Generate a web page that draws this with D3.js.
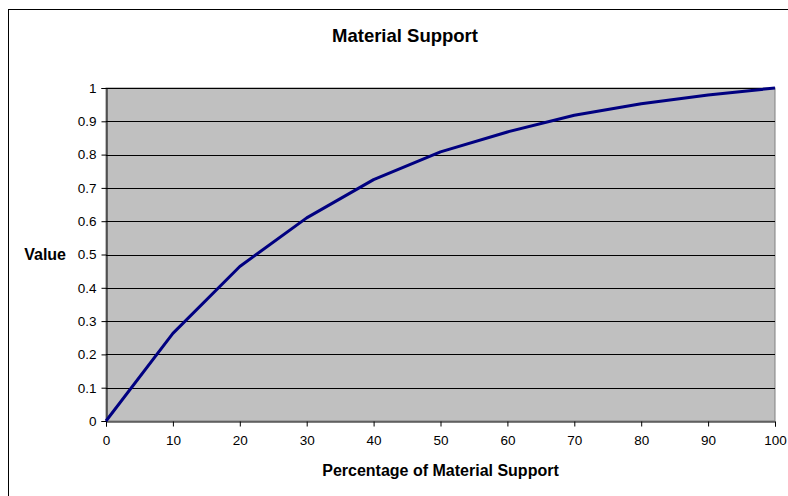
<!DOCTYPE html>
<html><head><meta charset="utf-8">
<script src="https://cdn.jsdelivr.net/npm/d3@7"></script>
<style>body{margin:0;background:#fff}svg{display:block}text{font-family:"Liberation Sans",Arial,sans-serif;fill:#000}</style>
</head><body><svg id="c" width="788" height="496"></svg>
<script>
const xValues = [0,10,20,30,40,50,60,70,80,90,100];
const yValues = [0,0.263,0.464,0.61,0.725,0.808,0.868,0.918,0.953,0.979,1.0];
const xTicks = [0,10,20,30,40,50,60,70,80,90,100];
const yTicks = [0,0.1,0.2,0.3,0.4,0.5,0.6,0.7,0.8,0.9,1];
const title = "Material Support";
const xTitle = "Percentage of Material Support";
const yTitle = "Value";

const svg = d3.select("#c");
const L=106, R=775, T=88, B=421;
const x = d3.scaleLinear().domain([0,100]).range([L,R]);
const y = d3.scaleLinear().domain([0,1]).range([B,T]);

svg.append("rect").attr("x",8.5).attr("y",9.5).attr("width",800).attr("height",500)
  .attr("fill","#fff").attr("stroke","#000");
svg.append("rect").attr("x",L).attr("y",T).attr("width",R-L).attr("height",B-T)
  .attr("fill","#c0c0c0").attr("stroke","#808080");

svg.append("g").selectAll("line").data(yTicks.slice(1)).join("line")
  .attr("x1",L).attr("x2",R).attr("y1",d=>Math.round(y(d))+0.5).attr("y2",d=>Math.round(y(d))+0.5)
  .attr("stroke","#000").attr("stroke-width",1);

const yAxis = svg.append("g").attr("transform",`translate(${L+0.5},0)`)
  .call(d3.axisLeft(y).tickValues(yTicks).tickSize(5).tickPadding(5).tickFormat(d=>String(+d.toFixed(1))));
const xAxis = svg.append("g").attr("transform",`translate(0,${B+0.5})`)
  .call(d3.axisBottom(x).tickValues(xTicks).tickSize(5).tickPadding(9));
[yAxis,xAxis].forEach(g=>{
  g.select(".domain").attr("stroke","#000");
  g.selectAll(".tick line").attr("stroke","#000");
  g.selectAll("text").attr("font-size",13.5).attr("font-family","Liberation Sans, Arial, sans-serif").attr("fill","#000");
});

const line = d3.line().x((d,i)=>x(xValues[i])).y(d=>y(d));
svg.append("path").datum(yValues).attr("d",line).attr("fill","none")
  .attr("stroke","#000080").attr("stroke-width",3).attr("stroke-linejoin","round");

svg.append("text").attr("x",405).attr("y",42).attr("text-anchor","middle")
  .attr("font-size",18.5).attr("font-weight","bold").text(title);
svg.append("text").attr("x",440.5).attr("y",476).attr("text-anchor","middle")
  .attr("font-size",16).attr("font-weight","bold").text(xTitle);
svg.append("text").attr("x",66).attr("y",260).attr("text-anchor","end")
  .attr("font-size",16).attr("font-weight","bold").text(yTitle);
</script></body></html>
